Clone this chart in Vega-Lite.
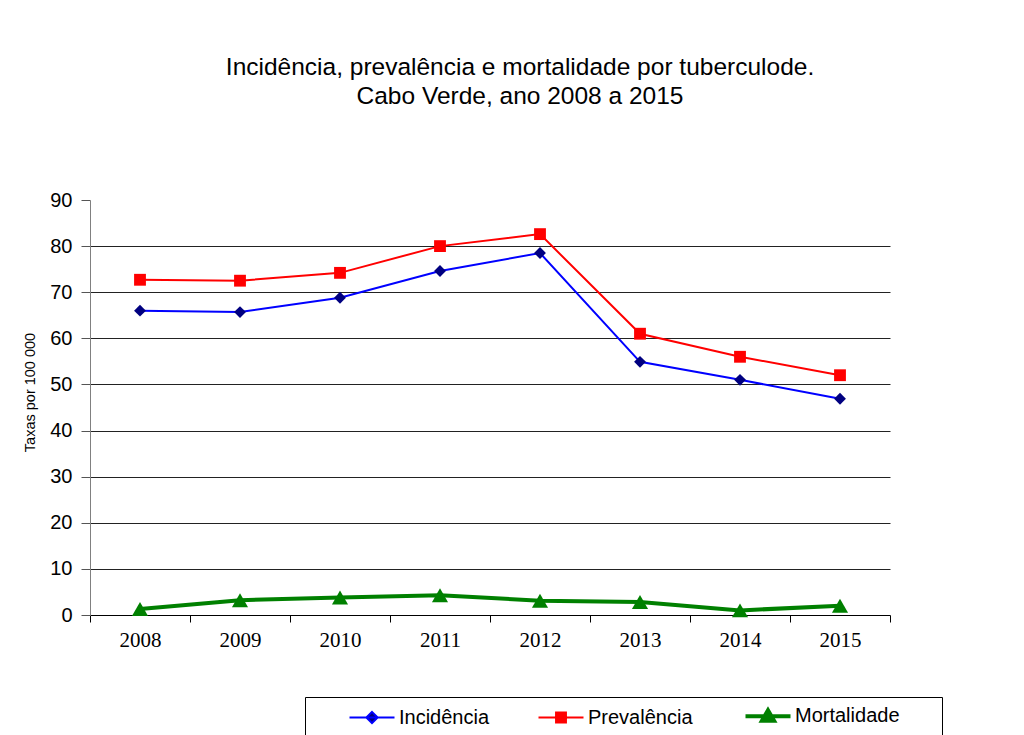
{
  "$schema": "https://vega.github.io/schema/vega-lite/v6.json",
  "width": 800,
  "height": 415,
  "autosize": {"type": "none"},
  "padding": {"left": 90, "top": 200, "right": 134, "bottom": 120},
  "background": "white",
  "title": {
    "text": ["Incidência, prevalência e mortalidade por tuberculode.", "Cabo Verde, ano 2008 a 2015"],
    "font": "Liberation Sans",
    "fontSize": 24.5,
    "fontWeight": "normal",
    "color": "black",
    "anchor": "middle",
    "dx": 30,
    "offset": 81,
    "lineHeight": 29
  },
  "data": {
    "values": [
      {"ano": 2008, "serie": "Incidência", "valor": 66.0},
      {"ano": 2009, "serie": "Incidência", "valor": 65.7},
      {"ano": 2010, "serie": "Incidência", "valor": 68.8},
      {"ano": 2011, "serie": "Incidência", "valor": 74.6},
      {"ano": 2012, "serie": "Incidência", "valor": 78.5},
      {"ano": 2013, "serie": "Incidência", "valor": 54.9},
      {"ano": 2014, "serie": "Incidência", "valor": 51.0},
      {"ano": 2015, "serie": "Incidência", "valor": 46.9},
      {"ano": 2008, "serie": "Prevalência", "valor": 72.7},
      {"ano": 2009, "serie": "Prevalência", "valor": 72.5},
      {"ano": 2010, "serie": "Prevalência", "valor": 74.2},
      {"ano": 2011, "serie": "Prevalência", "valor": 80.0},
      {"ano": 2012, "serie": "Prevalência", "valor": 82.6},
      {"ano": 2013, "serie": "Prevalência", "valor": 61.0},
      {"ano": 2014, "serie": "Prevalência", "valor": 56.0},
      {"ano": 2015, "serie": "Prevalência", "valor": 52.0},
      {"ano": 2008, "serie": "Mortalidade", "valor": 1.3},
      {"ano": 2009, "serie": "Mortalidade", "valor": 3.2},
      {"ano": 2010, "serie": "Mortalidade", "valor": 3.8},
      {"ano": 2011, "serie": "Mortalidade", "valor": 4.3},
      {"ano": 2012, "serie": "Mortalidade", "valor": 3.1},
      {"ano": 2013, "serie": "Mortalidade", "valor": 2.8},
      {"ano": 2014, "serie": "Mortalidade", "valor": 1.0},
      {"ano": 2015, "serie": "Mortalidade", "valor": 2.0}
    ]
  },
  "encoding": {
    "x": {
      "field": "ano",
      "type": "quantitative",
      "scale": {"domain": [2007.5, 2015.5], "nice": false, "zero": false},
      "axis": {
        "title": null,
        "values": [2007.5, 2008.5, 2009.5, 2010.5, 2011.5, 2012.5, 2013.5, 2014.5, 2015.5],
        "labelExpr": "datum.value > 2015 ? '' : format(datum.value + 0.5, 'd')",
        "labelOffset": 50,
        "labelOverlap": false,
        "labelFlush": false,
        "labelFont": "Liberation Serif",
        "labelFontSize": 21,
        "labelColor": "black",
        "labelPadding": 7,
        "tickColor": "black",
        "tickSize": 7,
        "domainColor": "black",
        "grid": false
      }
    },
    "y": {
      "field": "valor",
      "type": "quantitative",
      "scale": {"domain": [0, 90], "nice": false},
      "axis": {
        "title": "Taxas por 100 000",
        "titleFont": "Liberation Sans",
        "titleFontSize": 14.5,
        "titleFontWeight": "normal",
        "titleColor": "black",
        "titlePadding": 12,
        "titleY": 192,
        "values": [0, 10, 20, 30, 40, 50, 60, 70, 80, 90],
        "labelFont": "Liberation Sans",
        "labelFontSize": 20,
        "labelColor": "black",
        "labelPadding": 9,
        "tickColor": "#555555",
        "tickSize": 9,
        "domainColor": "#808080",
        "grid": true,
        "gridColor": "#222222",
        "gridWidth": 1,
        "gridOpacity": {"condition": {"test": "datum.value == 90 || datum.value == 0", "value": 0}, "value": 1}
      }
    }
  },
  "layer": [
    {
      "mark": {"type": "line"},
      "encoding": {
        "stroke": {
          "field": "serie",
          "type": "nominal",
          "scale": {"domain": ["Incidência", "Prevalência", "Mortalidade"], "range": ["#0000FF", "#FF0000", "#008000"]},
          "legend": {
            "title": "\u00a0",
            "titleOrient": "left",
            "titlePadding": 48,
            "titleFontSize": 11,
            "orient": "none",
            "legendX": 215,
            "legendY": 497,
            "direction": "horizontal",
            "strokeColor": "black",
            "fillColor": "white",
            "padding": 9,
            "labelFont": "Liberation Sans",
            "labelFontSize": 20,
            "labelColor": "black",
            "labelOffset": 17,
            "labelLimit": 400,
            "columnPadding": 44,
            "symbolSize": 2025,
            "symbolStrokeWidth": 2,
            "labelExpr": "datum.value === 'Mortalidade' ? datum.label + '\u00a0\u00a0\u00a0\u00a0\u00a0\u00a0\u200b' : datum.label",
            "encode": {
              "symbols": {
                "update": {
                  "shape": {"signal": "datum.value === 'Incidência' ? 'M-1,0L1,0M0,-0.25L0.25,0L0,0.25L-0.25,0Z' : datum.value === 'Prevalência' ? 'M-1,0L1,0M-0.22,-0.22L0.22,-0.22L0.22,0.22L-0.22,0.22Z' : 'M-1,0L1,0M0,-0.27L0.27,0.2L-0.27,0.2Z'"},
                  "fill": {"signal": "datum.value === 'Incidência' ? '#000080' : datum.value === 'Prevalência' ? '#FF0000' : '#008000'"},
                  "strokeWidth": {"signal": "datum.value === 'Mortalidade' ? 4 : 2"}
                }
              }
            }
          }
        },
        "strokeWidth": {"condition": {"test": "datum.serie === 'Mortalidade'", "value": 4}, "value": 2}
      }
    },
    {
      "transform": [{"filter": "datum.serie === 'Incidência'"}],
      "mark": {"type": "point", "shape": "diamond", "filled": true, "opacity": 1, "color": "#000080", "size": 140}
    },
    {
      "transform": [{"filter": "datum.serie === 'Prevalência'"}],
      "mark": {"type": "point", "shape": "square", "filled": true, "opacity": 1, "color": "#FF0000", "size": 140}
    },
    {
      "transform": [{"filter": "datum.serie === 'Mortalidade'"}],
      "mark": {"type": "point", "shape": "triangle-up", "filled": true, "opacity": 1, "color": "#008000", "size": 260}
    }
  ],
  "config": {
    "view": {"stroke": null}
  }
}
